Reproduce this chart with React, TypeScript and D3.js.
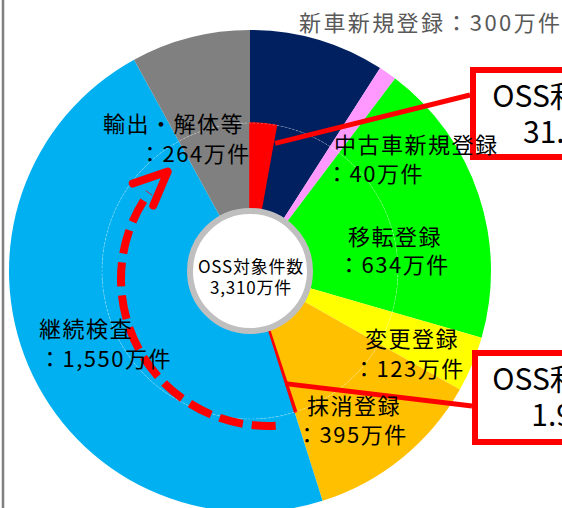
import React from "react";
import * as d3 from "d3";

// 万件
const categories = ["新車新規登録", "中古車新規登録", "移転登録", "変更登録", "抹消登録", "継続検査", "輸出・解体等"];
const counts = [300, 40, 634, 123, 395, 1550, 264];
const colors = ["#002060", "#ff99ff", "#00ff00", "#ffff00", "#ffc000", "#00b0f0", "#808080"];
// OSS利用率 (%) and on which side of the slice the red part sits
const ossRates = [31.4, null, null, null, 1.9, null, null];
const ossSide = ["start", null, null, null, "end", null, null];
const centerTitle = "OSS対象件数";
const centerTotal = "3,310万件";
const boxTitle = "OSS利用率";

const W = 562;
const H = 508;
const cx = 250;
const cy = 271;
const rOuter = 241;
const rMid = 148;
const rInner = 50;
const rHole = 63;

// label layout: [x line1, baseline1, x line2, baseline2]
const labelPos: Record<string, number[]> = {
  "中古車新規登録": [334, 153, 326, 182],
  "移転登録": [348, 245, 338, 273],
  "変更登録": [365, 347, 353, 377],
  "抹消登録": [307, 414, 296, 443],
  "継続検査": [39, 337, 39, 367],
  "輸出・解体等": [103, 132, 139, 162],
};

const fmt = d3.format(",");
const jp = "'Noto Sans CJK JP', 'Noto Sans', sans-serif";

function pt(r: number, a: number, ox = cx, oy = cy): [number, number] {
  return [ox + r * Math.sin(a), oy - r * Math.cos(a)];
}

export default function App() {
  const data = categories.map((c, i) => ({ name: c, value: counts[i], color: colors[i], rate: ossRates[i], side: ossSide[i] }));
  const pie = d3.pie<any>().sort(null).value((d) => d.value);
  const slices = pie(data);
  const outerArc = d3.arc<any>().innerRadius(rMid).outerRadius(rOuter);
  const innerArc = d3.arc<any>().innerRadius(rInner).outerRadius(rMid);

  const reds = slices
    .filter((s) => s.data.rate != null)
    .map((s) => {
      const span = (s.endAngle - s.startAngle) * (s.data.rate / 100);
      const a0 = s.data.side === "start" ? s.startAngle : s.endAngle - span;
      return { startAngle: a0, endAngle: a0 + span, rate: s.data.rate };
    });

  // leader line anchors on the red parts
  const anchor1 = pt(130, reds[0].endAngle + 0.015);
  const anchor2 = pt(118, (reds[1].startAngle + reds[1].endAngle) / 2 + 0.01);
  const boxes = [
    { x: 470, y: 67, w: 190, h: 93, anchor: anchor1, end: [470, 95], rate: reds[0].rate },
    { x: 472, y: 350, w: 190, h: 95, anchor: anchor2, end: [472, 406], rate: reds[1].rate },
  ];

  // dashed arrow (inspection cycle)
  const ax = cx + 18;
  const ay = cy + 8;
  const ar = 147;
  const deg = Math.PI / 180;
  const a0 = 177 * deg;
  const a1 = 306 * deg;
  const aTip = 317 * deg;
  const p = d3.path();
  p.arc(ax, ay, ar, a0 - Math.PI / 2, a1 - Math.PI / 2, false);
  const tip = pt(ar, aTip, ax, ay);
  const dir = [Math.cos(aTip), Math.sin(aTip)];
  const backAng = Math.atan2(-dir[1], -dir[0]);
  const arm = 37;
  const armA = [tip[0] + arm * Math.cos(backAng + 24 * deg), tip[1] + arm * Math.sin(backAng + 24 * deg)];
  const armB = [tip[0] + arm * Math.cos(backAng - 24 * deg), tip[1] + arm * Math.sin(backAng - 24 * deg)];

  return (
    <svg width={W} height={H} style={{ position: "absolute", left: 0, top: 0, background: "#fff" }}>
      <g transform={`translate(${cx},${cy})`}>
        {slices.map((s, i) => (
          <path key={"o" + i} d={outerArc(s) as string} fill={s.data.color} />
        ))}
        {slices.map((s, i) => (
          <path key={"i" + i} d={innerArc(s) as string} fill={s.data.color} />
        ))}
        {reds.map((r, i) => (
          <path key={"r" + i} d={innerArc(r) as string} fill="#ff0000" stroke="#ff0000" strokeWidth={1.5} />
        ))}
        <circle r={rMid} fill="none" stroke="#ffffff" strokeOpacity={0.4} strokeWidth={0.8} strokeDasharray="2,2" />
        <circle r={rHole - 3} fill="#ffffff" stroke="#bfbfbf" strokeWidth={6} />
      </g>

      <path d={p.toString()} fill="none" stroke="#ff0000" strokeWidth={8} strokeDasharray="24,9" />
      <polyline
        points={`${armA[0]},${armA[1]} ${tip[0]},${tip[1]} ${armB[0]},${armB[1]}`}
        fill="none"
        stroke="#ff0000"
        strokeWidth={8}
        strokeLinecap="round"
        strokeLinejoin="round"
      />

      {boxes.map((b, i) => (
        <g key={"b" + i}>
          <line x1={b.anchor[0]} y1={b.anchor[1]} x2={b.end[0]} y2={b.end[1]} stroke="#ff0000" strokeWidth={5} />
          <rect x={b.x + 3} y={b.y + 3} width={b.w} height={b.h - 6} fill="#ffffff" stroke="#ff0000" strokeWidth={6} />
          <text x={566} y={b.y + 40} textAnchor="middle" fontFamily={jp} fontSize={30} fill="#000">
            {boxTitle}
          </text>
          <text x={566} y={b.y + 76} textAnchor="middle" fontFamily={jp} fontSize={30} fill="#000">
            {b.rate.toFixed(1) + "%"}
          </text>
        </g>
      ))}

      {slices
        .filter((s) => labelPos[s.data.name])
        .map((s, i) => {
          const lp = labelPos[s.data.name];
          return (
            <g key={"l" + i} fontFamily={jp} fontSize={22} fill="#000" style={{ letterSpacing: "1.5px" }}>
              <text x={lp[0]} y={lp[1]}>{s.data.name}</text>
              <text x={lp[2]} y={lp[3]}>{"：" + fmt(s.data.value) + "万件"}</text>
            </g>
          );
        })}

      <text x={cx + 1} y={cy + 2} textAnchor="middle" fontFamily={jp} fontSize={17} fill="#000" style={{ letterSpacing: "0.8px" }}>
        {centerTitle}
      </text>
      <text x={cx + 1} y={cy + 23} textAnchor="middle" fontFamily={jp} fontSize={17} fill="#000" style={{ letterSpacing: "0.8px" }}>
        {centerTotal}
      </text>

      <text x={299} y={31} fontFamily={jp} fontSize={22} fill="#595959" style={{ letterSpacing: "2.4px" }}>
        {slices[0].data.name + "：" + slices[0].data.value + "万件"}
      </text>

      <line x1={3} y1={0} x2={3} y2={H} stroke="#808080" strokeWidth={2.5} />
    </svg>
  );
}
